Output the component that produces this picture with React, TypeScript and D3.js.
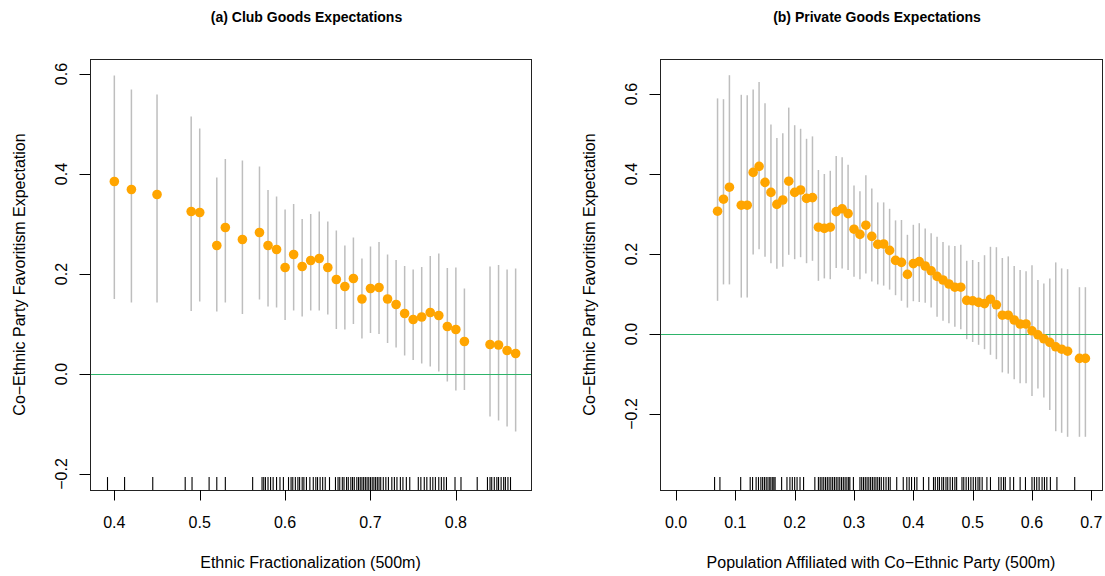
import React from 'react';
import * as d3 from 'd3';

// (a) Club goods
const clubX = [0.40, 0.42, 0.45, 0.49, 0.50, 0.52, 0.53, 0.55, 0.57, 0.58, 0.59, 0.60, 0.61, 0.62, 0.63, 0.64, 0.65, 0.66, 0.67, 0.68, 0.69, 0.70, 0.71, 0.72, 0.73, 0.74, 0.75, 0.76, 0.77, 0.78, 0.79, 0.80, 0.81, 0.84, 0.85, 0.86, 0.87];
const clubEst = [0.385, 0.369, 0.359, 0.325, 0.323, 0.257, 0.293, 0.269, 0.283, 0.257, 0.249, 0.213, 0.239, 0.215, 0.227, 0.231, 0.213, 0.189, 0.175, 0.191, 0.150, 0.171, 0.173, 0.150, 0.139, 0.121, 0.109, 0.114, 0.123, 0.117, 0.095, 0.089, 0.065, 0.059, 0.058, 0.047, 0.041];
const clubLo = [0.150, 0.143, 0.143, 0.126, 0.145, 0.125, 0.143, 0.120, 0.149, 0.135, 0.133, 0.108, 0.127, 0.115, 0.127, 0.127, 0.119, 0.090, 0.089, 0.100, 0.071, 0.082, 0.080, 0.062, 0.053, 0.037, 0.028, 0.021, 0.015, 0.005, -0.015, -0.033, -0.032, -0.085, -0.093, -0.105, -0.115];
const clubHi = [0.597, 0.569, 0.559, 0.515, 0.491, 0.393, 0.430, 0.427, 0.415, 0.368, 0.355, 0.329, 0.340, 0.310, 0.320, 0.325, 0.305, 0.287, 0.257, 0.273, 0.231, 0.255, 0.264, 0.239, 0.228, 0.216, 0.209, 0.214, 0.236, 0.241, 0.212, 0.213, 0.171, 0.215, 0.218, 0.209, 0.211];
const clubRug = [0.392, 0.412, 0.445, 0.483, 0.491, 0.511, 0.520, 0.530, 0.562,
  0.573, 0.575, 0.577, 0.580, 0.583, 0.586, 0.590, 0.594, 0.598, 0.604, 0.607, 0.609, 0.612, 0.615, 0.617, 0.620, 0.622, 0.625, 0.629,
  0.633, 0.636, 0.638, 0.641, 0.644, 0.647, 0.652, 0.659, 0.662, 0.664, 0.667, 0.669, 0.672, 0.674, 0.677, 0.679, 0.681, 0.684, 0.686,
  0.688, 0.690, 0.692, 0.694, 0.696, 0.698, 0.700, 0.702, 0.704, 0.706, 0.708, 0.710, 0.712, 0.715, 0.718, 0.721, 0.725, 0.728, 0.731,
  0.735, 0.738, 0.742, 0.746, 0.756, 0.759, 0.763, 0.766, 0.770, 0.773, 0.776, 0.780, 0.783, 0.786, 0.789, 0.799, 0.806, 0.825,
  0.837, 0.840, 0.842, 0.845, 0.848, 0.850, 0.853, 0.856, 0.858, 0.861, 0.864];
const clubXTicks = [0.4, 0.5, 0.6, 0.7, 0.8];
const clubYTicks = [-0.2, 0.0, 0.2, 0.4, 0.6];

// (b) Private goods
const privX = [0.07, 0.08, 0.09, 0.11, 0.12, 0.13, 0.14, 0.15, 0.16, 0.17, 0.18, 0.19, 0.20, 0.21, 0.22, 0.23, 0.24, 0.25, 0.26, 0.27, 0.28, 0.29, 0.30, 0.31, 0.32, 0.33, 0.34, 0.35, 0.36, 0.37, 0.38, 0.39, 0.40, 0.41, 0.42, 0.43, 0.44, 0.45, 0.46, 0.47, 0.48, 0.49, 0.50, 0.51, 0.52, 0.53, 0.54, 0.55, 0.56, 0.57, 0.58, 0.59, 0.60, 0.61, 0.62, 0.63, 0.64, 0.65, 0.66, 0.68, 0.69];
const privEst = [0.307, 0.337, 0.367, 0.322, 0.322, 0.404, 0.419, 0.379, 0.354, 0.324, 0.335, 0.382, 0.354, 0.360, 0.339, 0.341, 0.267, 0.264, 0.267, 0.306, 0.313, 0.301, 0.262, 0.249, 0.272, 0.244, 0.224, 0.225, 0.209, 0.184, 0.179, 0.149, 0.176, 0.181, 0.170, 0.158, 0.144, 0.135, 0.125, 0.117, 0.117, 0.084, 0.083, 0.079, 0.076, 0.087, 0.073, 0.047, 0.047, 0.035, 0.025, 0.025, 0.008, -0.002, -0.012, -0.021, -0.032, -0.038, -0.043, -0.061, -0.061];
const privLo = [0.083, 0.124, 0.124, 0.091, 0.091, 0.199, 0.212, 0.193, 0.177, 0.163, 0.168, 0.198, 0.187, 0.192, 0.177, 0.183, 0.133, 0.139, 0.137, 0.165, 0.164, 0.160, 0.143, 0.137, 0.151, 0.131, 0.124, 0.121, 0.111, 0.097, 0.083, 0.066, 0.082, 0.080, 0.078, 0.066, 0.043, 0.033, 0.027, 0.018, 0.012, -0.013, -0.020, -0.027, -0.038, -0.052, -0.063, -0.096, -0.099, -0.113, -0.123, -0.123, -0.155, -0.136, -0.159, -0.190, -0.243, -0.247, -0.257, -0.257, -0.257];
const privHi = [0.589, 0.587, 0.647, 0.598, 0.597, 0.611, 0.630, 0.577, 0.524, 0.490, 0.502, 0.566, 0.522, 0.513, 0.488, 0.494, 0.410, 0.400, 0.408, 0.445, 0.442, 0.423, 0.371, 0.357, 0.397, 0.364, 0.329, 0.329, 0.313, 0.284, 0.285, 0.248, 0.273, 0.277, 0.264, 0.252, 0.243, 0.230, 0.221, 0.220, 0.223, 0.183, 0.185, 0.180, 0.197, 0.218, 0.217, 0.190, 0.194, 0.170, 0.160, 0.157, 0.172, 0.135, 0.126, 0.139, 0.179, 0.164, 0.162, 0.117, 0.117];
const privRug = [0.065, 0.074, 0.109, 0.125, 0.129, 0.135, 0.139, 0.143, 0.146, 0.149, 0.152, 0.155, 0.158, 0.160, 0.163, 0.165, 0.167,
  0.178, 0.187, 0.192, 0.196, 0.200, 0.204, 0.209, 0.215, 0.234, 0.240, 0.243, 0.246, 0.249, 0.252, 0.255, 0.258, 0.261, 0.264, 0.267,
  0.270, 0.273, 0.276, 0.279, 0.282, 0.285, 0.288, 0.291, 0.293, 0.299, 0.310, 0.313, 0.316, 0.319, 0.322, 0.325, 0.328, 0.331, 0.334,
  0.337, 0.340, 0.343, 0.346, 0.350, 0.354, 0.358, 0.361, 0.372, 0.383, 0.389, 0.393, 0.397, 0.402, 0.406, 0.417, 0.426, 0.434, 0.437,
  0.441, 0.444, 0.448, 0.451, 0.455, 0.458, 0.462, 0.466, 0.470, 0.473, 0.482, 0.485, 0.489, 0.493, 0.497, 0.501, 0.505, 0.509, 0.512,
  0.516, 0.524, 0.530, 0.544, 0.548, 0.552, 0.555, 0.563, 0.569, 0.580, 0.589, 0.600, 0.604, 0.608, 0.612, 0.617, 0.621, 0.625, 0.631,
  0.642, 0.672];
const privXTicks = [0.0, 0.1, 0.2, 0.3, 0.4, 0.5, 0.6, 0.7];
const privYTicks = [-0.2, 0.0, 0.2, 0.4, 0.6];

const font = 'Liberation Sans, Arial, Helvetica, sans-serif';
const top = 59;
const bottom = 490;
const tickLen = 10.5;

type PanelProps = {
  title: string;
  xLabel: string;
  xs: number[];
  est: number[];
  lo: number[];
  hi: number[];
  rug: number[];
  xTicks: number[];
  yTicks: number[];
  left: number;
  right: number;
  xDomain: [number, number];
  yDomain: [number, number];
};

function Panel(p: PanelProps) {
  const x = d3.scaleLinear().domain(p.xDomain).range([p.left, p.right]);
  const y = d3.scaleLinear().domain(p.yDomain).range([bottom, top]);
  const rugLen = (bottom - top) * 0.03;
  const fmt = d3.format('.1f');
  const cx = (p.left + p.right) / 2;
  const cy = (top + bottom) / 2;

  return (
    <g fontFamily={font}>
      <text x={cx - 4} y={22} textAnchor="middle" fontWeight="bold" fontSize={14}>{p.title}</text>

      {/* confidence bars */}
      {p.xs.map((v, i) => (
        <line key={'b' + i} x1={x(v)} x2={x(v)} y1={y(p.lo[i])} y2={y(p.hi[i])} stroke="#bebebe" strokeWidth={1.5} />
      ))}
      <line x1={p.left} x2={p.right} y1={Math.round(y(0)) + 0.5} y2={Math.round(y(0)) + 0.5} stroke="#2eb46a" strokeWidth={1} />
      {p.xs.map((v, i) => (
        <circle key={'p' + i} cx={x(v)} cy={y(p.est[i])} r={4.8} fill="#ffa500" />
      ))}

      {/* rug */}
      {p.rug.map((v, i) => (
        <line key={'r' + i} x1={x(v)} x2={x(v)} y1={bottom} y2={bottom - rugLen} stroke="#000" strokeWidth={1.1} />
      ))}

      <rect x={p.left + 0.5} y={top + 0.5} width={p.right - p.left} height={bottom - top} fill="none" stroke="#222" strokeWidth={1} />

      {/* x axis */}
      {p.xTicks.map((t) => (
        <g key={'x' + t}>
          <line x1={Math.round(x(t)) + 0.5} x2={Math.round(x(t)) + 0.5} y1={bottom} y2={bottom + tickLen} stroke="#000" />
          <text x={x(t)} y={527.5} textAnchor="middle" fontSize={16}>{fmt(t)}</text>
        </g>
      ))}
      <text x={cx} y={568} textAnchor="middle" fontSize={16}>{p.xLabel}</text>

      {/* y axis */}
      {p.yTicks.map((t) => (
        <g key={'y' + t}>
          <line x1={p.left - tickLen} x2={p.left} y1={Math.round(y(t)) + 0.5} y2={Math.round(y(t)) + 0.5} stroke="#000" />
          <text transform={`translate(${p.left - 23.5},${y(t)}) rotate(-90)`} textAnchor="middle" fontSize={16}>
            {fmt(t).replace('-', '\u2212')}
          </text>
        </g>
      ))}
      <text transform={`translate(${p.left - 65.5},${cy}) rotate(-90)`} textAnchor="middle" fontSize={16}>
        Co{'\u2212'}Ethnic Party Favoritism Expectation
      </text>
    </g>
  );
}

export default function App() {
  return (
    <svg width={1105} height={576} style={{ position: 'absolute', left: 0, top: 0, background: '#fff' }}>
      <rect width={1105} height={576} fill="#fff" />
      <Panel
        title="(a) Club Goods Expectations"
        xLabel="Ethnic Fractionalization (500m)"
        xs={clubX} est={clubEst} lo={clubLo} hi={clubHi} rug={clubRug}
        xTicks={clubXTicks} yTicks={clubYTicks}
        left={90} right={531}
        xDomain={[0.3715, 0.888]} yDomain={[-0.232, 0.63]}
      />
      <Panel
        title="(b) Private Goods Expectations"
        xLabel={'Population Affiliated with Co\u2212Ethnic Party (500m)'}
        xs={privX} est={privEst} lo={privLo} hi={privHi} rug={privRug}
        xTicks={privXTicks} yTicks={privYTicks}
        left={660} right={1102}
        xDomain={[-0.027, 0.718]} yDomain={[-0.39, 0.6875]}
      />
    </svg>
  );
}
